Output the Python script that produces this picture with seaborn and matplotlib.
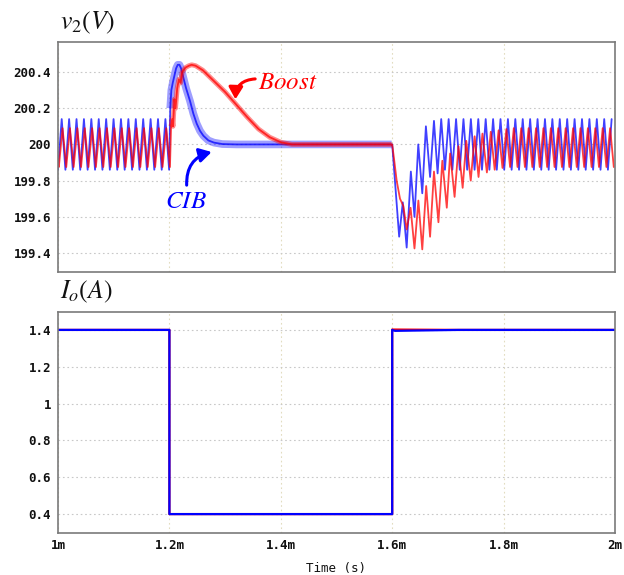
import numpy as np
import pandas as pd
import matplotlib
matplotlib.use("Agg")
import matplotlib.pyplot as plt
import seaborn as sns

# ------------------------------------------------------------------
# Data (time in ms, v2 in V, Io in A)
# ------------------------------------------------------------------
RIPPLE_PERIOD = 0.0133            # ms, switching ripple period
HALF = RIPPLE_PERIOD / 2

# steady-state ripple levels
CIB_HI, CIB_LO = 200.14, 199.86
BOOST_HI, BOOST_LO = 200.09, 199.875

# CIB (blue) – light-load interval, mean trajectory of the trace
cib_mid_t = [1.2015, 1.2035, 1.2060, 1.2090, 1.2120, 1.2150, 1.2180, 1.2210,
             1.2250, 1.2300, 1.2370, 1.2430, 1.2490, 1.2550, 1.2610, 1.2700,
             1.2800, 1.2950, 1.3200, 1.4000, 1.5000, 1.5990]
cib_mid_v = [200.20, 200.30, 200.34, 200.38, 200.42, 200.44, 200.44, 200.42,
             200.37, 200.31, 200.24, 200.17, 200.115, 200.075, 200.048, 200.022,
             200.010, 200.002, 200.0, 200.0, 200.0, 200.0]

# CIB (blue) – after the load step back up at 1.6 ms (extremes)
cib_post_t = [1.6000, 1.6125, 1.6190, 1.6260, 1.6335, 1.6400, 1.6468, 1.6540,
              1.6605, 1.6680, 1.6750, 1.6815, 1.6880, 1.6947]
cib_post_v = [200.00, 199.49, 199.68, 199.43, 199.85, 199.60, 200.00, 199.73,
              200.10, 199.82, 200.13, 199.84, 200.14, 199.86]

# Boost (red) – light-load interval, mean trajectory of the trace
boost_mid_t = [1.2030, 1.2050, 1.2065, 1.2090, 1.2110, 1.2140, 1.2170, 1.2200,
               1.2230, 1.2290, 1.2350, 1.2400, 1.2470, 1.2600, 1.2800, 1.3000,
               1.3200, 1.3400, 1.3600, 1.3800, 1.4000, 1.4200, 1.5000, 1.5990]
boost_mid_v = [200.10, 200.14, 200.10, 200.25, 200.20, 200.31, 200.36, 200.34,
               200.40, 200.425, 200.435, 200.44, 200.435, 200.41, 200.35, 200.29,
               200.22, 200.15, 200.085, 200.04, 200.012, 200.0, 200.0, 200.0]

# Boost (red) – after the load step back up at 1.6 ms (extremes)
boost_post_t = [1.6000, 1.6037, 1.6080, 1.6140, 1.6200, 1.6260, 1.6330, 1.6400,
                1.6470, 1.6540, 1.6610, 1.6680, 1.6750, 1.6830, 1.6900, 1.6980,
                1.7040, 1.7120, 1.7190, 1.7265, 1.7330, 1.7410, 1.7480, 1.7550,
                1.7620, 1.7700, 1.7770, 1.7840, 1.7910, 1.7980, 1.8050]
boost_post_v = [200.00, 199.91, 199.80, 199.70, 199.66, 199.53, 199.65, 199.425,
                199.69, 199.42, 199.77, 199.49, 199.85, 199.57, 199.91, 199.65,
                199.95, 199.71, 199.99, 199.76, 200.02, 199.80, 200.045, 199.82,
                200.06, 199.845, 200.07, 199.86, 200.078, 199.87, 200.085]

# Output current Io
io_t = [1.0, 1.2, 1.2, 1.6, 1.6, 1.605, 1.72, 2.0]
io_cib = [1.4, 1.4, 0.4, 0.4, 1.4, 1.395, 1.4, 1.4]
io_boost = [1.4, 1.4, 0.4, 0.4, 1.402, 1.402, 1.4, 1.4]

x_ticks = [1.0, 1.2, 1.4, 1.6, 1.8, 2.0]
x_labels = ["1m", "1.2m", "1.4m", "1.6m", "1.8m", "2m"]
v_ticks = [199.4, 199.6, 199.8, 200.0, 200.2, 200.4]
v_labels = ["199.4", "199.6", "199.8", "200", "200.2", "200.4"]
i_ticks = [0.4, 0.6, 0.8, 1.0, 1.2, 1.4]
i_labels = ["0.4", "0.6", "0.8", "1", "1.2", "1.4"]


def steady(t_start, t_end, first_is_low, hi, lo):
    """Alternating ripple extremes between read hi/lo levels."""
    t = np.arange(t_start, t_end + 1e-9, HALF)
    v = [(lo if (k % 2 == 0) == first_is_low else hi) for k in range(len(t))]
    return list(t), v


# assemble CIB trace
pre_t, pre_v = steady(1.0, 1.1995, True, CIB_HI, CIB_LO)
st_t, st_v = steady(cib_post_t[-1] + HALF, 2.0, False, CIB_HI, CIB_LO)
cib_t = pre_t + cib_mid_t + cib_post_t + st_t
cib_v = pre_v + cib_mid_v + cib_post_v + st_v

# assemble Boost trace
bpre_t, bpre_v = steady(1.0015, 1.2012, True, BOOST_HI, BOOST_LO)
bst_t, bst_v = steady(boost_post_t[-1] + HALF, 2.0, True, BOOST_HI, BOOST_LO)
boost_t = [1.0] + bpre_t + boost_mid_t + boost_post_t + bst_t
boost_v = [199.92] + bpre_v + boost_mid_v + boost_post_v + bst_v

df_cib = pd.DataFrame({"t": cib_t, "v": cib_v})
df_boost = pd.DataFrame({"t": boost_t, "v": boost_v})
df_cib_mid = pd.DataFrame({"t": cib_mid_t, "v": cib_mid_v})
df_boost_mid = pd.DataFrame({"t": boost_mid_t, "v": boost_mid_v})
df_io = pd.DataFrame({"t": io_t, "cib": io_cib, "boost": io_boost})

# ------------------------------------------------------------------
sns.set_theme(style="white")
plt.rcParams["font.family"] = ["DejaVu Sans Mono", "DejaVu Sans"]
plt.rcParams["mathtext.fontset"] = "stix"

W, H = 624, 575
fig = plt.figure(figsize=(W / 100, H / 100), dpi=100)
ax1 = fig.add_axes([58 / W, 1 - 272 / H, 557 / W, 230 / H])
ax2 = fig.add_axes([58 / W, 1 - 532.5 / H, 557 / W, 221 / H])

RED = "#ff0000"
BLUE = "#0000ff"

# ---- voltage panel ----
sns.lineplot(data=df_cib_mid, x="t", y="v", ax=ax1, color=BLUE, alpha=0.38,
             linewidth=5.5, estimator=None, sort=False, solid_capstyle="butt")
sns.lineplot(data=df_cib, x="t", y="v", ax=ax1, color=BLUE, alpha=0.75,
             linewidth=1.3, estimator=None, sort=False)
sns.lineplot(data=df_boost_mid, x="t", y="v", ax=ax1, color=RED, alpha=0.45,
             linewidth=3.5, estimator=None, sort=False, solid_capstyle="butt")
sns.lineplot(data=df_boost, x="t", y="v", ax=ax1, color=RED, alpha=0.75,
             linewidth=1.3, estimator=None, sort=False)

ax1.set_ylim(199.295, 200.566)
ax1.set_yticks(v_ticks)
ax1.set_yticklabels(v_labels)

# annotations
ax1.text(1.413, 200.345, r"$Boost$", color=RED, fontsize=18,
         ha="center", va="center")
ax1.annotate("", xy=(1.3185, 200.249), xytext=(1.354, 200.362),
             arrowprops=dict(arrowstyle="-|>,head_width=0.35,head_length=0.6",
                             color=RED, lw=2.2, shrinkA=0, shrinkB=0,
                             connectionstyle="arc3,rad=0.45"))
ax1.text(1.2298, 199.686, r"$CIB$", color=BLUE, fontsize=18,
         ha="center", va="center")
ax1.annotate("", xy=(1.2758, 199.958), xytext=(1.231, 199.775),
             arrowprops=dict(arrowstyle="-|>,head_width=0.35,head_length=0.6",
                             color=BLUE, lw=2.2, shrinkA=0, shrinkB=0,
                             connectionstyle="arc3,rad=-0.4"))

# ---- current panel ----
sns.lineplot(data=df_io, x="t", y="boost", ax=ax2, color=RED, linewidth=1.6,
             estimator=None, sort=False)
sns.lineplot(data=df_io, x="t", y="cib", ax=ax2, color=BLUE, linewidth=1.6,
             estimator=None, sort=False)
ax2.set_ylim(0.30, 1.50)
ax2.set_yticks(i_ticks)
ax2.set_yticklabels(i_labels)

for ax in (ax1, ax2):
    ax.set_xlim(1.0, 2.0)
    ax.set_xticks(x_ticks)
    ax.set_ylabel("")
    ax.set_xlabel("")
    ax.grid(False)
    ax.yaxis.grid(True, color="#c8c8c8", linestyle=(0, (1.5, 2.5)), lw=0.8)
    ax.xaxis.grid(True, color="#e2dcc0", linestyle=(0, (1.5, 2.5)), lw=0.8)
    ax.set_axisbelow(True)
    for s in ax.spines.values():
        s.set_color("#7a7a7a")
        s.set_linewidth(1.2)
    ax.tick_params(axis="both", length=0, labelsize=9, colors="#111111",
                   pad=5)
    for lab in ax.get_xticklabels() + ax.get_yticklabels():
        lab.set_fontweight("bold")

ax1.set_xticklabels([])
ax2.set_xticklabels(x_labels, fontweight="bold")
ax2.set_xlabel("Time (s)", fontsize=9, color="#111111", labelpad=7)

fig.text(60 / W, 1 - 23 / H, r"$v_2(V)$", fontsize=18.5, va="center",
         ha="left", color="#111111")
fig.text(60 / W, 1 - 292 / H, r"$I_o(A)$", fontsize=18.5, va="center",
         ha="left", color="#111111")

fig.savefig("out.png", dpi=100)
